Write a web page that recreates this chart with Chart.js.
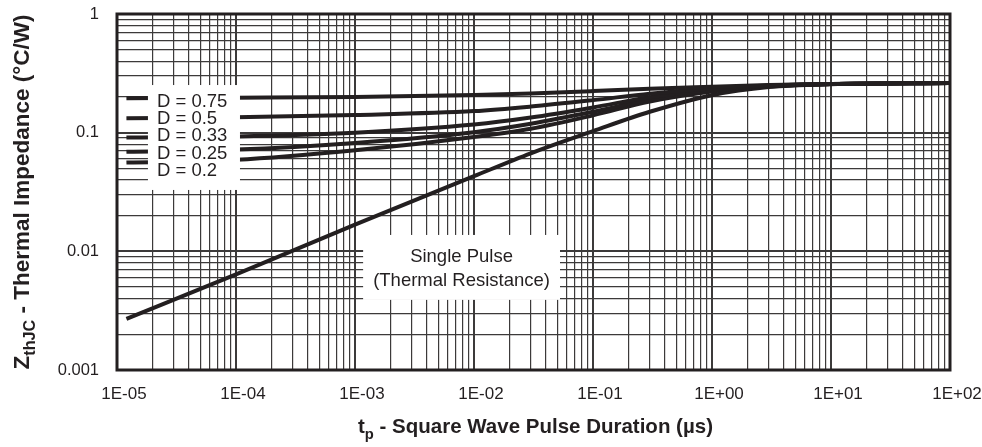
<!DOCTYPE html>
<html>
<head>
<meta charset="utf-8">
<script src="https://cdn.jsdelivr.net/npm/chart.js@4.4.1/dist/chart.umd.min.js"></script>
<style>
    html, body { margin: 0; padding: 0; background: #fff; }
    #wrap { width: 982px; height: 447px; position: relative; }
</style>
</head>
<body>
<div id="wrap"><canvas id="chart"></canvas></div>
<script>
// pulse duration (µs) where the curves were read
const tp = [1.2e-5, 1e-4, 1e-3, 1e-2, 3e-2, 1e-1, 3e-1, 1, 3, 10, 100];

// thermal impedance (°C/W) per duty cycle
const zD075 = [0.195, 0.197, 0.200, 0.208, 0.214, 0.224, 0.235, 0.244, 0.252, 0.257, 0.262];
const zD050 = [0.132, 0.135, 0.141, 0.152, 0.166, 0.188, 0.213, 0.236, 0.250, 0.257, 0.262];
const zD033 = [0.091, 0.093, 0.100, 0.117, 0.134, 0.163, 0.199, 0.230, 0.248, 0.257, 0.262];
const zD025 = [0.069, 0.072, 0.082, 0.101, 0.119, 0.150, 0.190, 0.226, 0.247, 0.257, 0.262];
const zD020 = [0.056, 0.059, 0.071, 0.092, 0.108, 0.140, 0.183, 0.222, 0.246, 0.257, 0.262];
const zSingle = [0.0027, 0.0064, 0.0168, 0.043, 0.067, 0.103, 0.150, 0.207, 0.242, 0.256, 0.262];

const xTickLabels = ["1E-05", "1E-04", "1E-03", "1E-02", "1E-01", "1E+00", "1E+01", "1E+02"];
const yTickLabels = ["0.001", "0.01", "0.1", "1"];
const dutyLabels = ["D = 0.75", "D = 0.5", "D = 0.33", "D = 0.25", "D = 0.2"];
const singleLabel = ["Single Pulse", "(Thermal Resistance)"];

const xDecades = xTickLabels.map(Number);
const yDecades = yTickLabels.map(Number);

const INK = "#231f20";
const GRID = "#3c3a3a";
const FONT = "'Liberation Sans', Arial, Helvetica, sans-serif";

function logGrid(decades) {
    const values = [];
    for (let i = 0; i < decades.length - 1; i++) {
        for (let k = 1; k < 10; k++) values.push(decades[i] * k);
    }
    values.push(decades[decades.length - 1]);
    return values;
}

function decadeIndex(decades, value) {
    return decades.findIndex(d => Math.abs(d - value) / d < 1e-6);
}

function series(values) {
    return {
        data: tp.map((t, i) => ({ x: t, y: values[i] })),
        showLine: true,
        borderColor: INK,
        borderWidth: 4,
        pointRadius: 0,
        cubicInterpolationMode: "monotone"
    };
}

// chart area is fixed by hand, so drop the padding the scales ask for
function fixSize(prop, size) {
    return scale => {
        scale[prop] = size;
        scale.paddingTop = scale.paddingBottom = scale.paddingLeft = scale.paddingRight = 0;
    };
}

// white label boxes, in data coordinates
const legendBox = { x0: 1.82e-5, x1: 1.08e-4, y0: 0.0329, y1: 0.252 };
const singleBox = { x0: 1.17e-3, x1: 0.0528, y0: 0.0039, y1: 0.01374 };

function drawTextWithSub(ctx, parts, size) {
    let x = 0;
    parts.forEach(([text, sub]) => {
        ctx.font = `bold ${sub ? size * 0.72 : size}px ${FONT}`;
        ctx.fillText(text, x, sub ? size * 0.28 : 0);
        x += ctx.measureText(text).width;
    });
}

function measureWithSub(ctx, parts, size) {
    return parts.reduce((w, [text, sub]) => {
        ctx.font = `bold ${sub ? size * 0.72 : size}px ${FONT}`;
        return w + ctx.measureText(text).width;
    }, 0);
}

const overlay = {
    id: "overlay",
    afterDatasetsDraw(chart) {
        const { ctx, chartArea: a, scales: { x, y } } = chart;
        ctx.save();
        ctx.fillStyle = "#fff";
        [legendBox, singleBox].forEach(b => {
            const l = x.getPixelForValue(b.x0), r = x.getPixelForValue(b.x1);
            const t = y.getPixelForValue(b.y1), btm = y.getPixelForValue(b.y0);
            ctx.fillRect(l, t, r - l, btm - t);
        });

        ctx.fillStyle = INK;
        ctx.font = `18.5px ${FONT}`;
        ctx.textBaseline = "middle";
        ctx.textAlign = "left";
        const lx = x.getPixelForValue(legendBox.x0) + 9;
        const ly = y.getPixelForValue(legendBox.y1) + 16.5;
        dutyLabels.forEach((lab, i) => ctx.fillText(lab, lx, ly + i * 17.4));

        ctx.textAlign = "center";
        const cx = (x.getPixelForValue(singleBox.x0) + x.getPixelForValue(singleBox.x1)) / 2;
        const cy = y.getPixelForValue(singleBox.y1);
        singleLabel.forEach((lab, i) => ctx.fillText(lab, cx, cy + 22 + i * 24));

        ctx.strokeStyle = INK;
        ctx.lineWidth = 3;
        ctx.strokeRect(a.left, a.top, a.right - a.left, a.bottom - a.top);
        ctx.restore();
    },
    afterDraw(chart) {
        const { ctx, chartArea: a } = chart;
        ctx.save();
        ctx.fillStyle = INK;
        ctx.textBaseline = "alphabetic";
        ctx.textAlign = "left";

        const xSize = 20.5;
        const xParts = [["t", false], ["p", true], [" - Square Wave Pulse Duration (µs)", false]];
        const xw = measureWithSub(ctx, xParts, xSize);
        ctx.save();
        ctx.translate((a.left + a.right) / 2 - xw / 2 + 2, 433);
        drawTextWithSub(ctx, xParts, xSize);
        ctx.restore();

        const ySize = 22.5;
        const yParts = [["Z", false], ["thJC", true], [" - Thermal Impedance (°C/W)", false]];
        const yw = measureWithSub(ctx, yParts, ySize);
        ctx.save();
        ctx.translate(29, (a.top + a.bottom) / 2 + yw / 2);
        ctx.rotate(-Math.PI / 2);
        drawTextWithSub(ctx, yParts, ySize);
        ctx.restore();
        ctx.restore();
    }
};

new Chart(document.getElementById("chart"), {
    type: "scatter",
    data: {
        datasets: [zD075, zD050, zD033, zD025, zD020, zSingle].map(series)
    },
    options: {
        responsive: true,
        maintainAspectRatio: false,
        animation: false,
        events: [],
        layout: { padding: { top: 14, right: 32, left: 0, bottom: 0 } },
        plugins: { legend: { display: false }, tooltip: { enabled: false } },
        scales: {
            x: {
                type: "logarithmic",
                min: xDecades[0],
                max: xDecades[xDecades.length - 1],
                afterBuildTicks: scale => { scale.ticks = logGrid(xDecades).map(v => ({ value: v })); },
                afterFit: fixSize("height", 77),
                border: { display: false },
                grid: {
                    drawTicks: false,
                    color: GRID,
                    lineWidth: c => decadeIndex(xDecades, c.tick.value) >= 0 ? 2 : 1.2
                },
                ticks: {
                    autoSkip: false,
                    maxRotation: 0,
                    minRotation: 0,
                    padding: 14,
                    labelOffset: 7,
                    color: INK,
                    font: { family: FONT, size: 17 },
                    callback: v => {
                        const i = decadeIndex(xDecades, v);
                        return i >= 0 ? xTickLabels[i] : "";
                    }
                }
            },
            y: {
                type: "logarithmic",
                min: yDecades[0],
                max: yDecades[yDecades.length - 1],
                afterBuildTicks: scale => { scale.ticks = logGrid(yDecades).map(v => ({ value: v })); },
                afterFit: fixSize("width", 117),
                border: { display: false },
                grid: {
                    drawTicks: false,
                    color: GRID,
                    lineWidth: c => decadeIndex(yDecades, c.tick.value) >= 0 ? 2 : 1.2
                },
                ticks: {
                    autoSkip: false,
                    padding: 18,
                    color: INK,
                    font: { family: FONT, size: 16.5 },
                    callback: v => {
                        const i = decadeIndex(yDecades, v);
                        return i >= 0 ? yTickLabels[i] : "";
                    }
                }
            }
        }
    },
    plugins: [overlay]
});
</script>
</body>
</html>
